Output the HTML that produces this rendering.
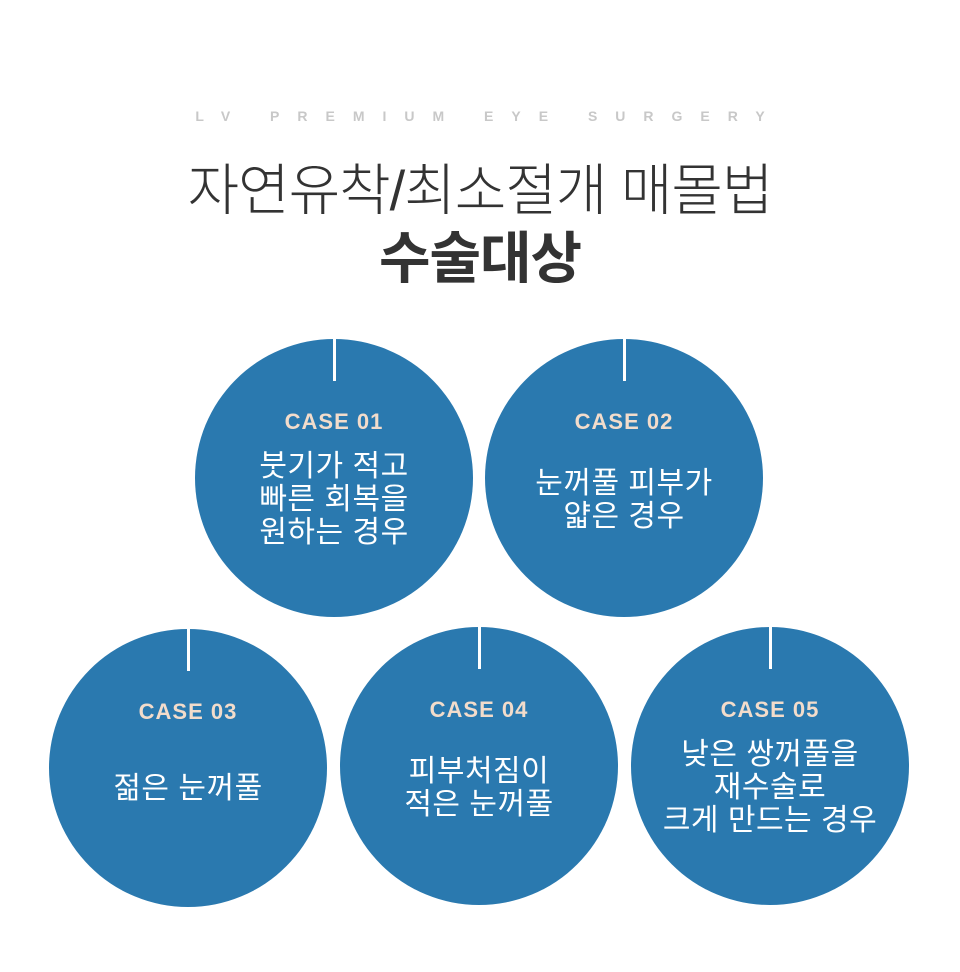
<!DOCTYPE html>
<html><head><meta charset="utf-8"><style>
body{margin:0;width:960px;height:972px;background:#fff;position:relative;overflow:hidden;font-family:"Liberation Sans","Noto Sans CJK KR",sans-serif}
.sub{position:absolute;top:108px;left:0;width:960px;text-align:center;font-size:14px;font-weight:700;letter-spacing:18px;color:#c8c8c8;padding-left:18px;box-sizing:border-box}
.t1{position:absolute;top:156px;left:0;width:960px;text-align:center;font-size:56px;font-weight:300;color:#333;line-height:70px;letter-spacing:-1px}
.t2{position:absolute;top:224px;left:0;width:960px;text-align:center;font-size:56px;font-weight:700;color:#333;line-height:70px;letter-spacing:-1px}
.c{position:absolute;width:278px;height:278px;border-radius:50%;background:#2a79af;color:#fff;text-align:center}
.c:before{content:"";position:absolute;left:138px;top:0;width:3px;height:42px;background:#fff}
.k{position:absolute;top:70px;left:0;width:100%;font-size:22px;font-weight:700;color:#f2dccb;letter-spacing:1px}
.d{position:absolute;left:0;width:100%;font-size:30px;line-height:33px;letter-spacing:0.5px}
</style></head><body>
<div class="sub">LV PREMIUM EYE SURGERY</div>
<div class="t1">자연유착/최소절개 매몰법</div>
<div class="t2">수술대상</div>
<div class="c" style="left:195px;top:339px"><div class="k">CASE 01</div><div class="d" style="top:111px">붓기가 적고<br>빠른 회복을<br>원하는 경우</div></div>
<div class="c" style="left:485px;top:339px"><div class="k">CASE 02</div><div class="d" style="top:128px">눈꺼풀 피부가<br>얇은 경우</div></div>
<div class="c" style="left:49px;top:629px"><div class="k">CASE 03</div><div class="d" style="top:143px">젊은 눈꺼풀</div></div>
<div class="c" style="left:340px;top:627px"><div class="k">CASE 04</div><div class="d" style="top:128px">피부처짐이<br>적은 눈꺼풀</div></div>
<div class="c" style="left:631px;top:627px"><div class="k">CASE 05</div><div class="d" style="top:111px">낮은 쌍꺼풀을<br>재수술로<br>크게 만드는 경우</div></div>
</body></html>
